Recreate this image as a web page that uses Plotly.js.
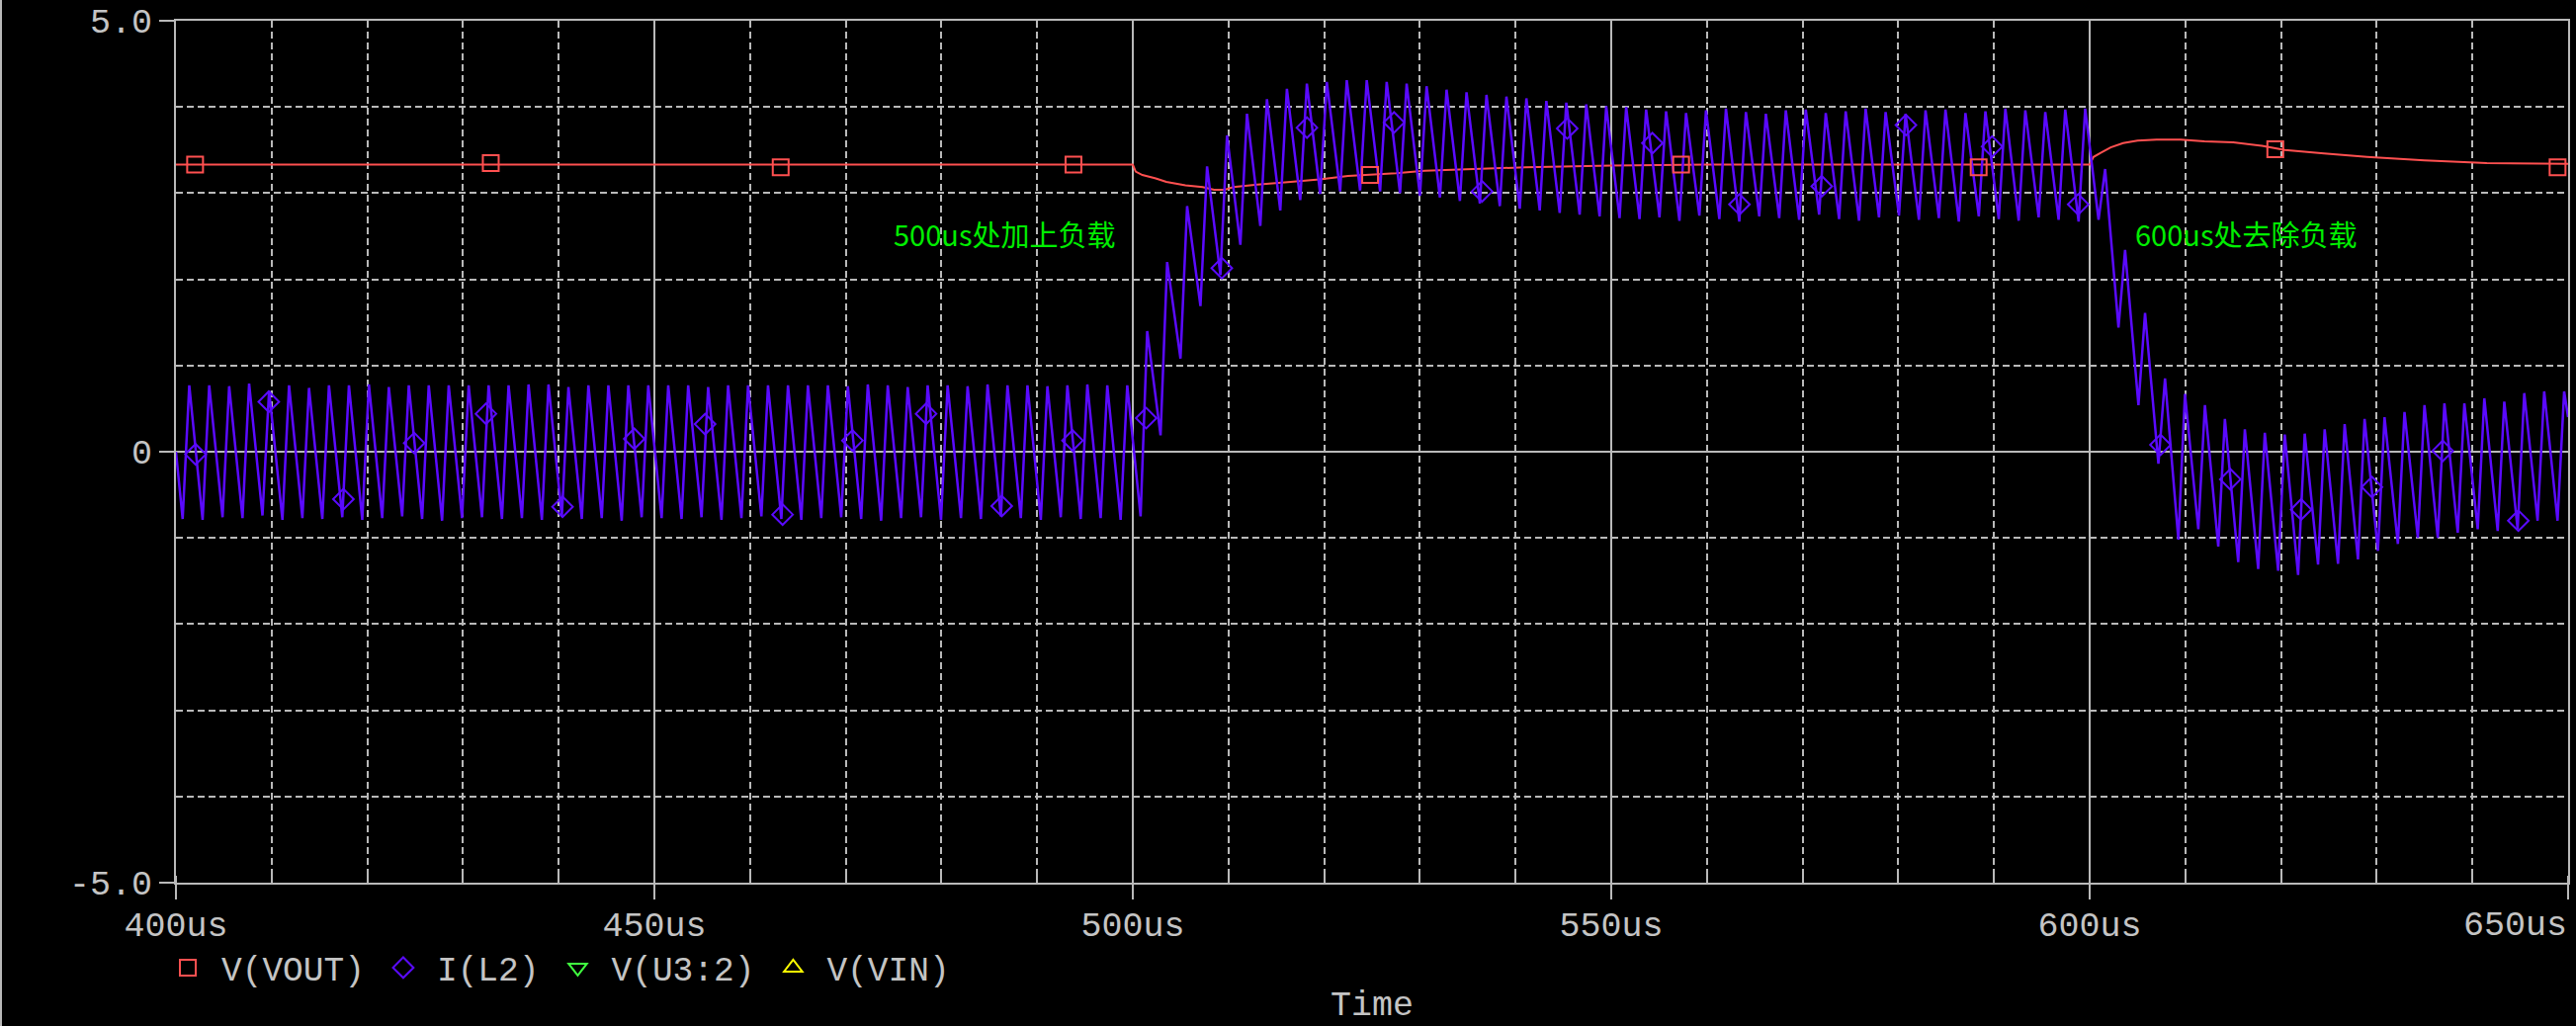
<!DOCTYPE html>
<html>
<head>
<meta charset="utf-8">
<script src="https://cdn.plot.ly/plotly-3.0.1.min.js"></script>
<style>
html,body{margin:0;padding:0;background:#000;}
#chart{width:2606px;height:1038px;}
</style>
</head>
<body>
<div id="chart"></div>
<script>
// ---------------- data ----------------
const X_TICKS = [400, 450, 500, 550, 600, 650];
const X_TICK_TEXT = ['400us', '450us', '500us', '550us', '600us', '650us'];
const Y_TICKS = [-5, 0, 5];
const Y_TICK_TEXT = ['-5.0', '0', '5.0'];

// V(VOUT) in volts, time in us
const VOUT_T = [400, 500.0, 500.3, 501.0, 502.4, 503.5, 505.5, 507.3, 508.5, 509.6, 510.5, 513, 516.5, 519.5, 522.5, 524.8, 527.5, 530.5, 535.5, 541, 550, 560,
                600.0, 600.4, 601.2, 602.2, 603.5, 605, 607, 609.5, 612, 615, 618, 620.4, 624.5, 629, 635, 641.5, 650];
const VOUT_V = [3.33, 3.33, 3.25, 3.21, 3.17, 3.13, 3.09, 3.07, 3.04, 3.04, 3.07, 3.10, 3.13, 3.16, 3.20, 3.21, 3.23, 3.26, 3.28, 3.30, 3.32, 3.33,
                3.33, 3.42, 3.47, 3.53, 3.58, 3.61, 3.62, 3.62, 3.60, 3.59, 3.55, 3.50, 3.46, 3.42, 3.38, 3.35, 3.34];
const VOUT_MARK_T = [402.0, 432.9, 463.2, 493.8, 524.8, 557.3, 588.4, 619.4, 648.9];
const VOUT_MARK_V = [3.33, 3.35, 3.30, 3.33, 3.21, 3.33, 3.30, 3.51, 3.30];

// I(L2) in amps: switching ripple, one valley and one peak per switching cycle
const SW_FIRST_VALLEY = 400.70;   // us
const SW_FIRST_PEAK = 401.39;     // us
const SW_PERIOD = 2.0857;         // us
const IL2_START = 0.0;            // value at 400us
const IL2_END = 0.40;             // value at 650us
const IL2_VALLEY = [
  -0.78,-0.79,-0.76,-0.77,-0.74,-0.79,-0.77,-0.78,
  -0.76,-0.79,-0.77,-0.75,-0.78,-0.80,-0.77,-0.76,
  -0.78,-0.77,-0.79,-0.75,-0.78,-0.77,-0.80,-0.76,
  -0.77,-0.78,-0.76,-0.79,-0.77,-0.75,-0.78,-0.79,
  -0.77,-0.76,-0.78,-0.80,-0.77,-0.76,-0.79,-0.77,
  -0.78,-0.75,-0.77,-0.79,-0.76,-0.78,-0.77,-0.79,
  -0.75, 0.19, 1.08, 1.69, 2.05, 2.40, 2.62, 2.80, 2.92, 2.99, 3.02, 3.03, 3.02, 3.00, 2.97,
   2.95, 2.91, 2.88, 2.85, 2.82, 2.80, 2.77, 2.75, 2.73, 2.71,
   2.70, 2.72, 2.68, 2.74, 2.70, 2.67, 2.73, 2.71, 2.69, 2.75, 2.70, 2.68,
   2.72, 2.74, 2.69, 2.71, 2.67, 2.73, 2.70, 2.68, 2.72, 2.69, 2.67,
   2.69, 1.44, 0.54,-0.14,-1.02,-0.90,-1.10,-1.28,-1.36,-1.38,-1.43,-1.31,
  -1.30,-1.25,-1.15,-1.07,-1.00,-1.00,-0.94,-0.90,-0.92,-0.90,-0.80,-0.80
];
const IL2_PEAK = [
   0.77, 0.77, 0.76, 0.79, 0.71, 0.77, 0.74, 0.77,
   0.77, 0.78, 0.75, 0.77, 0.77, 0.77, 0.77, 0.77,
   0.77, 0.78, 0.78, 0.75, 0.77, 0.77, 0.77, 0.77,
   0.77, 0.77, 0.75, 0.77, 0.77, 0.77, 0.77, 0.77,
   0.77, 0.76, 0.78, 0.77, 0.75, 0.77, 0.77, 0.76,
   0.78, 0.77, 0.77, 0.76, 0.77, 0.78, 0.77, 0.77,
   1.40, 2.20, 2.85, 3.31, 3.67, 3.92, 4.09, 4.21, 4.27, 4.29, 4.31, 4.31, 4.29, 4.27, 4.24,
   4.20, 4.17, 4.14, 4.12, 4.10, 4.07, 4.05, 4.03, 4.01, 4.00,
   3.97, 3.95, 3.93, 3.96, 3.98, 3.94, 3.92, 3.96, 3.97, 3.93, 3.95, 3.98,
   3.94, 3.92, 3.96, 3.97, 3.93, 3.95, 3.98, 3.96, 3.94, 3.97, 3.98,
   3.28, 2.34, 1.61, 0.85, 0.67, 0.54, 0.38, 0.26, 0.22, 0.20, 0.21, 0.26,
   0.32, 0.38, 0.40, 0.46, 0.54, 0.56, 0.56, 0.62, 0.58, 0.68, 0.70, 0.70
];
const IL2_MARK_T = [402.05, 409.7, 417.5, 424.9, 432.4, 440.4, 447.9, 455.3, 463.4, 470.7, 478.4, 486.3, 493.7,
                    501.4, 509.3, 518.2, 527.3, 536.5, 545.4, 554.3, 563.4, 572.0, 580.8, 589.8, 598.8,
                    607.4, 614.7, 622.1, 629.5, 636.9, 644.8];
const IL2_MARK_V = [-0.03, 0.58, -0.55, 0.10, 0.44, -0.64, 0.15, 0.32, -0.73, 0.13, 0.44, -0.63, 0.13,
                    0.39, 2.13, 3.76, 3.82, 3.02, 3.75, 3.58, 2.87, 3.08, 3.79, 3.54, 2.87,
                    0.08, -0.32, -0.67, -0.41, 0.01, -0.80];

// V(U3:2) and V(VIN) are listed in the legend but lie off this scale: no visible points
const U32_T = [null], U32_V = [null];
const VIN_T = [null], VIN_V = [null];

const SERIES_NAMES = ['V(VOUT)', 'I(L2)', 'V(U3:2)', 'V(VIN)'];
const NOTES = [
  {t: 486.6, v: 2.53, text: '500us处加上负载'},
  {t: 616.3, v: 2.53, text: '600us处去除负载'}
];

// ---------------- build ----------------
const il2T = [400], il2V = [IL2_START];
for (let i = 0; i < IL2_PEAK.length; i++) {
  il2T.push(SW_FIRST_VALLEY + i * SW_PERIOD); il2V.push(IL2_VALLEY[i]);
  il2T.push(SW_FIRST_PEAK + i * SW_PERIOD);   il2V.push(IL2_PEAK[i]);
}
il2T.push(650); il2V.push(IL2_END);

const RED = '#ff5050', BLUE = '#5a0aff', GREEN = '#40ff40', YELLOW = '#ffff00';
const GRID = '#b9b9b9', TXT = '#c4c4c4';
const MONO = 'Liberation Mono, Courier New, monospace';

const traces = [
  {x: VOUT_T, y: VOUT_V, mode: 'lines', line: {color: RED, width: 2}, showlegend: false, hoverinfo: 'skip'},
  {x: il2T, y: il2V, mode: 'lines', line: {color: BLUE, width: 2.5}, showlegend: false, hoverinfo: 'skip'},
  {x: VOUT_MARK_T, y: VOUT_MARK_V, mode: 'markers', name: SERIES_NAMES[0],
   marker: {symbol: 'square-open', size: 16, color: RED, line: {color: RED, width: 2}}},
  {x: IL2_MARK_T, y: IL2_MARK_V, mode: 'markers', name: SERIES_NAMES[1],
   marker: {symbol: 'diamond-open', size: 16, color: BLUE, line: {color: BLUE, width: 2}}},
  {x: U32_T, y: U32_V, mode: 'markers', name: SERIES_NAMES[2],
   marker: {symbol: 'triangle-down-open', size: 16, color: GREEN, line: {color: GREEN, width: 2}}},
  {x: VIN_T, y: VIN_V, mode: 'markers', name: SERIES_NAMES[3],
   marker: {symbol: 'triangle-up-open', size: 16, color: YELLOW, line: {color: YELLOW, width: 2}}}
];

const M = {l: 178, r: 8, t: 21, b: 145};
const W = 2606, H = 1038;
const PW = W - M.l - M.r, PH = H - M.t - M.b;
const LABEL_FONT = {family: MONO, size: 35, color: TXT};

// the last x label is drawn right-aligned to the frame (as in the original) instead of centred
const lastIdx = X_TICKS.length - 1;
const tickTextShown = X_TICK_TEXT.map((s, i) => i === lastIdx ? '' : s);

const layout = {
  width: W, height: H,
  paper_bgcolor: '#000', plot_bgcolor: '#000',
  margin: {l: M.l, r: M.r, t: M.t, b: M.b, autoexpand: false},
  showlegend: true,
  legend: {orientation: 'h', x: -22 / PW, xanchor: 'left', y: -86 / PH, yanchor: 'middle',
           font: {family: MONO, size: 34.5, color: TXT}, itemwidth: 58, bgcolor: 'rgba(0,0,0,0)',
           traceorder: 'normal'},
  xaxis: {
    range: [400, 650], automargin: false,
    tickmode: 'array', tickvals: X_TICKS, ticktext: tickTextShown,
    ticks: 'outside', ticklen: 15, tickwidth: 2, tickcolor: GRID,
    ticklabelstandoff: -5,
    tickfont: LABEL_FONT,
    showline: true, linecolor: GRID, linewidth: 2, mirror: true,
    showgrid: true, gridcolor: GRID, gridwidth: 2, zeroline: false,
    minor: {tickmode: 'linear', tick0: 400, dtick: 10, showgrid: true, gridcolor: GRID, gridwidth: 2,
            griddash: '7px,4px', ticks: 'inside', ticklen: 7, tickwidth: 2, tickcolor: GRID},
    title: {text: 'Time', font: LABEL_FONT, standoff: 53}
  },
  yaxis: {
    range: [-5, 5], automargin: false,
    tickmode: 'array', tickvals: Y_TICKS, ticktext: Y_TICK_TEXT,
    ticks: 'outside', ticklen: 15, tickwidth: 2, tickcolor: GRID,
    tickfont: LABEL_FONT,
    showline: true, linecolor: GRID, linewidth: 2, mirror: true,
    showgrid: true, gridcolor: GRID, gridwidth: 2, zeroline: false,
    minor: {tickmode: 'linear', tick0: 0, dtick: 1, showgrid: true, gridcolor: GRID, gridwidth: 2,
            griddash: '7px,4px'}
  },
  annotations: NOTES.map(n => ({
    x: n.t, y: n.v, xref: 'x', yref: 'y', text: n.text, showarrow: false,
    font: {family: 'Noto Sans CJK SC', size: 29, color: '#00ee00'}
  })).concat([{
    x: X_TICKS[lastIdx], y: -44 / PH, xref: 'x', yref: 'paper', text: X_TICK_TEXT[lastIdx],
    showarrow: false, xanchor: 'right', yanchor: 'middle', font: LABEL_FONT, borderpad: 0
  }]),
  shapes: [{type: 'line', xref: 'paper', yref: 'paper',
            x0: (1 - M.l) / PW, x1: (1 - M.l) / PW, y0: -M.b / PH, y1: (PH + M.t) / PH,
            line: {color: GRID, width: 2}}]
};

Plotly.newPlot('chart', traces, layout, {displayModeBar: false, staticPlot: true});
</script>
</body>
</html>
